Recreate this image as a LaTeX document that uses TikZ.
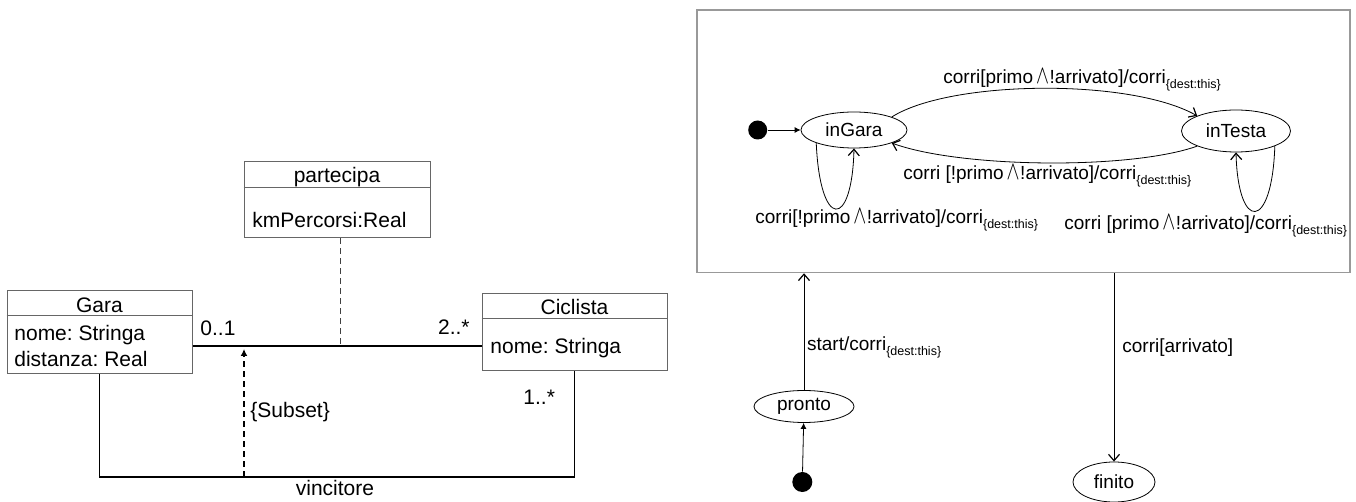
\documentclass[tikz,border=0pt]{standalone}
\usepackage{fontspec}
\setmainfont{Liberation Sans}
\usetikzlibrary{arrows.meta,shapes.geometric}
\frenchspacing
\newcommand{\dsub}[1]{\raisebox{-2.5pt}{\fontsize{6.25pt}{7pt}\selectfont #1}}
\newcommand{\andsym}{\kern1.5pt\raisebox{0.1pt}{\scalebox{1.05}[1.45]{$\wedge$}}\kern0.3pt}
\tikzset{
  umlbox/.style={draw=black!60, line width=0.5pt, inner sep=0pt, rectangle},
  umlline/.style={draw=black!60, line width=0.5pt},
  uml/.style={font=\fontsize{10.5pt}{12.6pt}\selectfont, inner sep=0pt},
  assocline/.style={line width=0.9pt},
  st/.style={font=\fontsize{9.5pt}{11.4pt}\selectfont},
  state/.style={ellipse, draw, line width=0.4pt, inner sep=0pt, st},
  initdot/.style={circle, fill=black, inner sep=0pt, minimum size=10pt},
  trans/.style={line width=0.4pt, -{Straight Barb[length=3.2pt,width=5.5pt,line width=0.6pt]}},
  initarr/.style={line width=0.4pt, -{Latex[length=3pt,width=3pt]}},
  lbl/.style={st, anchor=base west, inner sep=0pt},
}
\begin{document}
\begin{tikzpicture}[x=0.5pt,y=-0.5pt]
\useasboundingbox (0,0) rectangle (1356,502);

% ---------------- class diagram ----------------
\node[umlbox, minimum width=92.5pt, minimum height=41.5pt] (gara) at (99.5,332.5) {};
\node[umlbox, minimum width=93pt, minimum height=38pt] (partecipa) at (337,200) {};
\node[umlbox, minimum width=92.5pt, minimum height=38.5pt] (ciclista) at (574.5,332.5) {};

\coordinate (garah) at (0,316);
\coordinate (partech) at (0,187.5);
\coordinate (ciclistah) at (0,319);
\draw[umlline] (gara.west |- garah) -- (gara.east |- garah);
\draw[umlline] (partecipa.west |- partech) -- (partecipa.east |- partech);
\draw[umlline] (ciclista.west |- ciclistah) -- (ciclista.east |- ciclistah);

\node[uml, anchor=base] (garaname) at (99.5,313) {Gara};
\node[uml, anchor=base west] (garaattra) at (14,340.7) {nome: Stringa};
\node[uml, anchor=base west] (garaattrb) at (14,366.7) {distanza: Real};
\node[uml, anchor=base] (partname) at (337,183) {partecipa};
\node[uml, anchor=base west] (partattr) at (252,228) {kmPercorsi:Real};
\node[uml, anchor=base] (cicname) at (574.5,315) {Ciclista};
\node[uml, anchor=base west] (cicattr) at (490,353.3) {nome: Stringa};

\coordinate (assoc) at (340,346);
\draw[assocline] (gara.east |- assoc) -- (ciclista.west |- assoc);
\draw[line width=0.5pt, draw=black!75, dash pattern=on 3pt off 2pt] (assoc |- partecipa.south) -- (assoc);

\coordinate (vleft) at (99.5,477);
\coordinate (vright) at (574.5,477);
\draw[assocline] (gara.south) -- (vleft) -- (vright) -- (ciclista.south);

\coordinate (subsetfoot) at (244,477);
\coordinate (subsettip) at (244,349);
\draw[line width=0.7pt, dash pattern=on 3pt off 2pt, -{Latex[length=3.5pt,width=3.5pt]}] (subsetfoot) -- (subsettip);

\node[uml, anchor=base west] (mza) at (200,336) {0..1};
\node[uml, anchor=base east] (mzb) at (470,335) {2..*};
\node[uml, anchor=base west] (mzc) at (523,405) {1..*};
\node[uml, anchor=base west] (subsetlbl) at (250,418) {\{Subset\}};
\node[uml, anchor=base] (vinclbl) at (335,495) {vincitore};

% ---------------- state diagram ----------------
\node[draw=black!40, line width=0.75pt, minimum width=326.5pt, minimum height=131.25pt, inner sep=0pt] (comp) at (1023.5,141.25) {};

\node[initdot, minimum size=9.5pt] (initA) at (757.7,130) {};
\node[state, minimum width=53pt, minimum height=18pt] (ingara) at (854,130) {inGara};
\node[state, minimum width=54.5pt, minimum height=21pt] (intesta) at (1236,131) {inTesta};
\node[state, minimum width=50pt, minimum height=16pt] (pronto) at (804,406.5) {pronto};
\node[state, minimum width=41pt, minimum height=20pt] (finito) at (1114,482) {finito};
\node[initdot] (initB) at (802.3,482) {};

\draw[initarr] (initA) -- (ingara);
\draw[initarr] (initB) -- (pronto);

\draw[trans] (ingara.north east) .. controls (950,80) and (1130,78) .. (intesta.north west);
\draw[trans] (intesta.south west) .. controls (1130,170) and (960,168) .. (ingara.south east);
\draw[trans] (ingara.south west) .. controls (820,230) and (852,230) .. (ingara.south);
\draw[trans] (intesta.south east) .. controls (1272,232) and (1238,232) .. (intesta.south);
\draw[trans] (pronto) -- (pronto |- comp.south);
\draw[trans] (finito |- comp.south) -- (finito);

\node[lbl] (lbltop) at (943,83.3) {corri[primo\andsym!arrivato]/corri\dsub{\{dest:this\}}};
\node[lbl] (lblmid) at (903,180) {corri [!primo\andsym!arrivato]/corri\dsub{\{dest:this\}}};
\node[lbl] (lblloopa) at (755,224) {corri[!primo\andsym!arrivato]/corri\dsub{\{dest:this\}}};
\node[lbl] (lblloopb) at (1064,229.3) {corri [primo\andsym!arrivato]/corri\dsub{\{dest:this\}}};
\node[lbl] (lblstart) at (806.7,350.3) {start/corri\dsub{\{dest:this\}}};
\node[lbl] (lblfin) at (1122,352.7) {corri[arrivato]};
\end{tikzpicture}
\end{document}
